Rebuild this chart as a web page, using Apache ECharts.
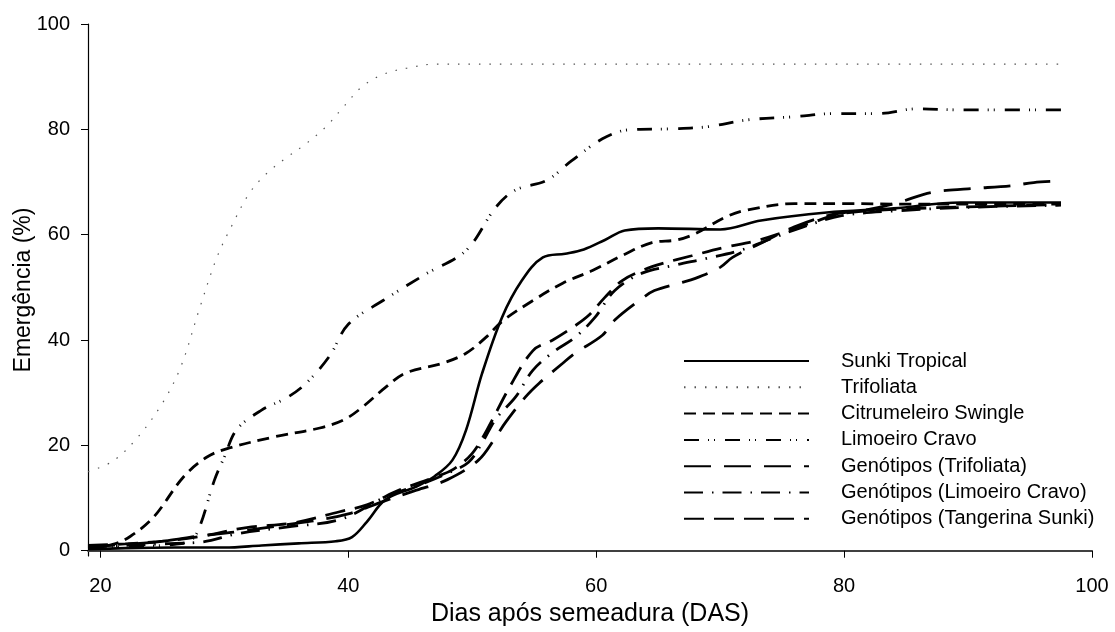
<!DOCTYPE html>
<html lang="pt">
<head>
  <meta charset="UTF-8" />
  <title>Emergência</title>
  <script src="https://cdn.jsdelivr.net/npm/echarts@6/dist/echarts.min.js"></script>
  <style>
    html, body { margin: 0; padding: 0; background: #fff; }
    #chart { width: 1115px; height: 632px; }
  </style>
</head>
<body>
  <div id="chart"></div>
  <script>
    // dados (DAS, emergência %)
    const xTicks = [20, 40, 60, 80, 100];
    const yTicks = [0, 20, 40, 60, 80, 100];

    const sunkiDias = [19, 22, 26, 30, 33, 36, 39, 40.3, 41.5, 43, 45.5, 47, 48.4, 49.5, 50.8, 52.4, 54, 55.7, 57.5, 59, 60.7, 62.3, 65, 70, 73.3, 78.6, 84, 89.4, 97.5];
    const sunkiVals = [0.3, 0.5, 0.6, 0.6, 1.0, 1.4, 1.8, 2.6, 5.5, 9.7, 12.2, 14.2, 17.2, 22.9, 33.7, 44.3, 51.3, 55.7, 56.4, 57.2, 59, 60.8, 61.2, 61, 62.7, 64.2, 65, 66.1, 66.1];

    const trifDias = [19, 21, 23, 25, 26.5, 28, 29.4, 30.6, 32, 33.4, 35, 36.6, 38.2, 39.7, 41.2, 42.9, 44.7, 47.1, 55, 70, 85, 97.3];
    const trifVals = [15, 17, 21.5, 28, 35, 46, 55.7, 61.7, 67.8, 71.6, 74.6, 77.3, 80.5, 84.5, 88.3, 90.5, 91.6, 92.4, 92.4, 92.4, 92.4, 92.4];

    const citrDias = [19, 21, 22.4, 24.3, 26.7, 28.6, 30.4, 34, 37.7, 39.6, 41, 43, 44.6, 47.6, 49.5, 51.1, 52.5, 54.9, 57.3, 59.7, 62.4, 64.5, 66.5, 68, 70.4, 72, 76, 80, 85, 90, 97.5];
    const citrVals = [0.5, 1.2, 2.7, 6.4, 14, 17.8, 19.5, 21.6, 23.3, 24.8, 27, 31, 33.7, 35.6, 37.5, 40.5, 43.7, 47.5, 50.8, 53.2, 56.4, 58.5, 59, 60.2, 63.3, 64.6, 65.9, 65.9, 65.8, 65.8, 65.8];

    const limDias = [19, 23, 26, 27.3, 28, 29.2, 30, 31, 33, 35, 36.6, 38.5, 40, 42.8, 46.3, 49.5, 51.9, 53.5, 56, 58, 60.5, 62.6, 66.1, 69, 72.2, 76, 79.2, 82.7, 85.9, 89.4, 97.5];
    const limVals = [0.5, 0.8, 1.2, 2, 4.5, 13.4, 17.8, 23, 26.7, 29, 31.8, 37, 43, 47.5, 52.6, 57, 65.2, 68.5, 70.3, 74, 78.2, 79.9, 80.1, 80.5, 81.8, 82.4, 83, 83, 83.9, 83.7, 83.7];

    const genTrifDias = [19, 22, 25, 28, 31, 34, 37, 40, 43, 45.5, 48, 50.5, 51.9, 52.7, 54.3, 55.4, 57.3, 58.3, 60.5, 61.5, 63.7, 64.7, 66.7, 68, 70, 71, 73.2, 76, 79, 82, 84.5, 87, 90, 93.5, 95.3, 97.5];
    const genTrifVals = [0.8, 1.2, 1.8, 2.8, 3.6, 4.6, 5.6, 7, 9.5, 11.5, 13.5, 17.2, 21.6, 24.4, 29.2, 31.8, 35.6, 37.5, 40.9, 43.8, 47.9, 49.4, 50.8, 51.7, 53.8, 55.7, 58.3, 61.5, 63.8, 64.8, 66.2, 68, 68.7, 69.3, 69.9, 70.2];

    const genLimDias = [19, 22, 25, 28.3, 31, 35, 39.3, 43, 46.2, 48.1, 49.7, 50.8, 51.9, 53.5, 54.9, 56.7, 58.3, 59.9, 61.5, 63.7, 66.3, 68.9, 71.6, 74.2, 76.6, 79.8, 84, 90, 97.5];
    const genLimVals = [0.6, 1.0, 1.3, 1.7, 3.2, 4.5, 5.9, 10.2, 12.9, 14.8, 16.8, 20.5, 25, 29.2, 34.3, 38, 40.5, 44.3, 49.4, 52.7, 54.2, 55.5, 57, 59.3, 61.4, 63.6, 64.5, 65.2, 65.6];

    const genTangDias = [19, 22, 25, 28, 31.8, 35.6, 39.3, 41.5, 44.1, 46.8, 48.5, 50, 51.2, 53, 54.9, 56.5, 58.1, 59.4, 60.7, 62.1, 63.7, 65.3, 67.7, 70.4, 73, 77.4, 79.8, 84, 90, 97.5];
    const genTangVals = [1.0, 1.3, 1.8, 2.7, 4.4, 5.3, 7.4, 8.7, 11.5, 13.8, 15.5, 18.5, 23, 31, 38, 40, 42.4, 44.7, 48.1, 51.3, 53.2, 54.5, 56, 57.6, 58.9, 62.3, 64, 64.8, 65.3, 65.7];

    const nomes = ['Sunki Tropical', 'Trifoliata', 'Citrumeleiro Swingle', 'Limoeiro Cravo',
      'Genótipos (Trifoliata)', 'Genótipos (Limoeiro Cravo)', 'Genótipos (Tangerina Sunki)'];

    function pares(dias, vals) {
      return dias.map((d, i) => [d, vals[i]]);
    }

    function serie(nome, dias, vals, dash, width, color) {
      return {
        name: nome,
        type: 'line',
        data: pares(dias, vals),
        smooth: 0.35,
        symbol: 'none',
        lineStyle: { color: color || '#000', width: width, type: dash, cap: 'butt' },
        itemStyle: { color: color || '#000' },
        emphasis: { disabled: true }
      };
    }

    const chart = echarts.init(document.getElementById('chart'));

    const eixoTexto = { color: '#000', fontFamily: 'Liberation Sans', fontSize: 20 };

    chart.setOption({
      animation: false,
      grid: { left: 88, right: 23, top: 24, bottom: 76, containLabel: false, outerBoundsMode: 'none' },
      legend: {
        orient: 'vertical',
        left: 678,
        top: 346,
        itemWidth: 125,
        itemHeight: 20,
        itemGap: 6.3,
        data: nomes,
        itemStyle: { opacity: 0 },
        textStyle: { color: '#000', fontFamily: 'Liberation Sans', fontSize: 20, lineHeight: 20, padding: [0, 0, 0, 27] }
      },
      xAxis: {
        type: 'value',
        min: 19,
        max: 100,
        name: 'Dias após semeadura (DAS)',
        nameLocation: 'middle',
        nameGap: 46,
        nameMoveOverlap: false,
        nameTextStyle: { color: '#000', fontFamily: 'Liberation Sans', fontSize: 25 },
        axisLine: { lineStyle: { color: '#404040', width: 1.8 } },
        axisTick: { show: true, length: 7, lineStyle: { color: '#000' }, customValues: xTicks },
        axisLabel: Object.assign({ margin: 20, customValues: xTicks }, eixoTexto),
        splitLine: { show: false }
      },
      yAxis: {
        type: 'value',
        min: -1,
        max: 100,
        name: 'Emergência (%)',
        nameLocation: 'middle',
        nameGap: 53,
        nameMoveOverlap: false,
        nameTextStyle: { color: '#000', fontFamily: 'Liberation Sans', fontSize: 23 },
        axisLine: { show: true, lineStyle: { color: '#000', width: 1.2 } },
        axisTick: { show: true, length: 7, lineStyle: { color: '#000' }, customValues: yTicks },
        axisLabel: Object.assign({ margin: 18, customValues: yTicks }, eixoTexto),
        splitLine: { show: false }
      },
      series: [
        serie(nomes[0], sunkiDias, sunkiVals, 'solid', 2.6),
        serie(nomes[1], trifDias, trifVals, [1.5, 9], 1.2, '#555'),
        serie(nomes[2], citrDias, citrVals, [12, 7], 2.8),
        serie(nomes[3], limDias, limVals, [15, 9, 1, 5, 1, 10], 2.8),
        serie(nomes[4], genTrifDias, genTrifVals, [27, 13], 2.8),
        serie(nomes[5], genLimDias, genLimVals, [19, 9, 1.5, 9], 2.8),
        serie(nomes[6], genTangDias, genTangVals, [20, 10], 2.8)
      ]
    });
  </script>
</body>
</html>
